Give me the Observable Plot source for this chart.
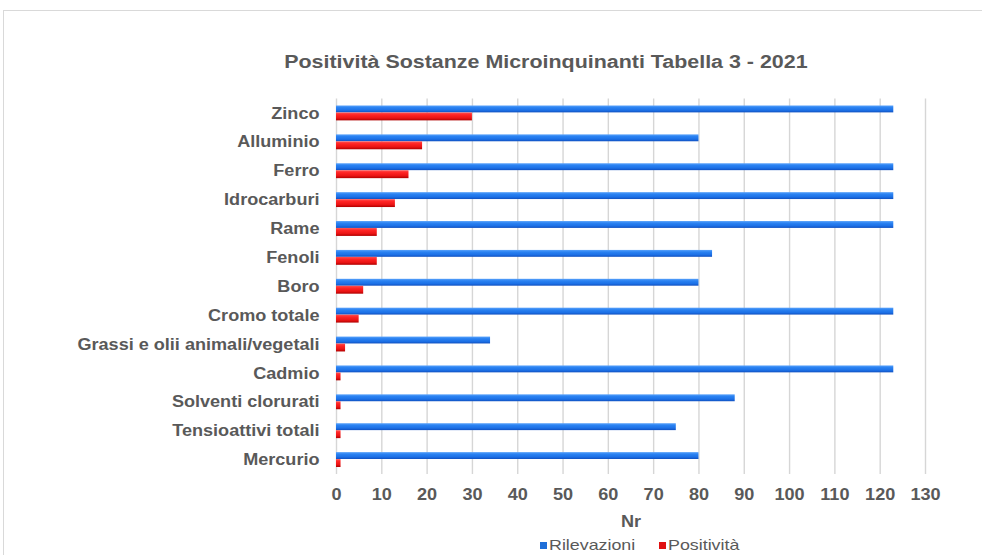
<!DOCTYPE html>
<html><head><meta charset="utf-8">
<script src="https://cdn.jsdelivr.net/npm/d3@7"></script>
<script src="https://cdn.jsdelivr.net/npm/@observablehq/plot@0.6"></script>
<style>
body{margin:0;background:#fff;font-family:"Liberation Sans",Arial,sans-serif;}
#frame{position:absolute;left:3px;top:10px;width:1000px;height:600px;border:1px solid #d9d9d9;}
#title{position:absolute;left:46px;width:1000px;top:52px;text-align:center;font-weight:bold;font-size:18px;color:#595959;}
#title span{display:inline-block;transform:scaleX(1.19);transform-origin:center;}
#chart{position:absolute;left:0;top:80px;}
.leg{position:absolute;top:537px;display:flex;align-items:center;font-size:14.5px;color:#595959;white-space:nowrap;}
.leg .sw{display:inline-block;width:7px;height:7px;margin-right:2px;}
.leg .tx{display:inline-block;transform:scaleX(1.23);transform-origin:left center;}
</style>
</head><body>
<div id="frame"></div>
<div id="title"><span>Positività Sostanze Microinquinanti Tabella 3 - 2021</span></div>
<div id="chart"></div>
<script>
const categories = ["Zinco","Alluminio","Ferro","Idrocarburi","Rame","Fenoli","Boro","Cromo totale","Grassi e olii animali/vegetali","Cadmio","Solventi clorurati","Tensioattivi totali","Mercurio"];
const rilevazioni = [123,80,123,123,123,83,80,123,34,123,88,75,80];
const positivita = [30,19,16,13,9,9,6,5,2,1,1,1,1];
const seriesNames = ["Rilevazioni","Positività"];
const seriesColors = ["#1f6fd8","#e01010"];
const xTicks = [0,10,20,30,40,50,60,70,80,90,100,110,120,130];

const data = categories.map((c,i)=>({cat:c, ril:rilevazioni[i], pos:positivita[i]}));

const chart = Plot.plot({
  width: 982, height: 460,
  marginLeft: 336, marginRight: 57, marginTop: 18.5, marginBottom: 66,
  x: {domain:[0,130], label: null},
  y: {domain: categories, padding: 0, round: false, label: null},
  style: {fontFamily:"'Liberation Sans', Arial, sans-serif", fontSize:"16px", color:"#595959", background:"transparent"},
  marks: [
    Plot.gridX(xTicks, {stroke:"#d6d6d6", strokeOpacity:1, strokeWidth:1.4}),
    Plot.barX(data, {x:"ril", y:"cat", fill:"url(#gBlue)", insetTop:7, insetBottom:15}),
    Plot.barX(data, {x:"pos", y:"cat", fill:"url(#gRed)", insetTop:14, insetBottom:7}),
    Plot.axisX({ticks:xTicks, tickSize:0, tickPadding:14, fontWeight:"bold", label:null}),
    Plot.text(["Nr"], {frameAnchor:"bottom", dy:52, fontWeight:"bold", fill:"#595959"}),
    Plot.axisY({tickSize:0, tickPadding:17, fontWeight:"bold", label:null})
  ]
});
const defs = d3.select(chart).insert("defs", ":first-child");
function grad(id, stops){
  const g = defs.append("linearGradient").attr("id", id).attr("x1",0).attr("y1",0).attr("x2",0).attr("y2",1);
  stops.forEach(([o,c])=>g.append("stop").attr("offset",o).attr("stop-color",c));
}
grad("gBlue", [[0,"#5aa2fa"],[0.3,"#2a82f2"],[0.7,"#1c70e6"],[1,"#1050c0"]]);
grad("gRed", [[0,"#ff5050"],[0.3,"#ff2424"],[0.7,"#ea1414"],[1,"#b00000"]]);
// horizontal stretch of the text, as in the reference (only x moves into the transform)
d3.select(chart).selectAll("text").each(function(){
  const xa = this.getAttribute("x");
  let x = 0;
  if (xa !== null && /^-?[\d.]+$/.test(xa.trim())) { x = +xa; this.removeAttribute("x"); }
  const t = this.getAttribute("transform") || "";
  this.setAttribute("transform", `${t} translate(${x},0) scale(1.13,1)`);
});
document.getElementById("chart").appendChild(chart);

const legLeft = [540, 659];
seriesNames.forEach((n,i)=>{
  const it = document.createElement("div"); it.className="leg"; it.style.left = legLeft[i]+"px";
  const sw = document.createElement("span"); sw.className="sw"; sw.style.background=seriesColors[i];
  const tx = document.createElement("span"); tx.className="tx"; tx.textContent = n;
  it.appendChild(sw); it.appendChild(tx); document.body.appendChild(it);
});
</script>
</body></html>
